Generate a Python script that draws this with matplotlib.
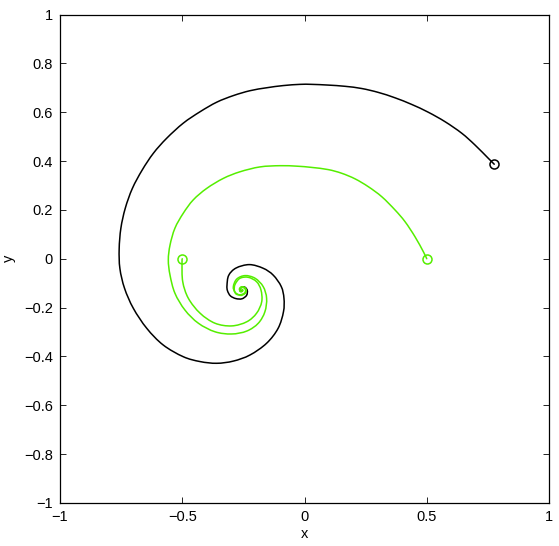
import matplotlib
matplotlib.use("Agg")
import matplotlib.pyplot as plt
from matplotlib.path import Path
from matplotlib.patches import PathPatch
import numpy as np

# Black trajectory (start at upper right, spirals in)
black_x = [0.776, 0.752, 0.697, 0.643, 0.575, 0.506, 0.438, 0.370, 0.302, 0.234,
           0.166, 0.097, 0.029, -0.018, -0.087, -0.155, -0.223, -0.291, -0.359, -0.427,
           -0.496, -0.564, -0.618, -0.664, -0.704, -0.733, -0.751, -0.758, -0.755,
           -0.736, -0.700, -0.645, -0.578, -0.496, -0.427, -0.359, -0.291, -0.223, -0.155,
           -0.108, -0.086, -0.084, -0.095, -0.128, -0.169, -0.225, -0.280, -0.310, -0.317,
           -0.315, -0.303, -0.281, -0.256, -0.237, -0.234, -0.243, -0.256, -0.264, -0.262,
           -0.256, -0.254]
black_y = [0.387, 0.411, 0.466, 0.514, 0.561, 0.600, 0.632, 0.659, 0.681, 0.697,
           0.706, 0.711, 0.714, 0.714, 0.709, 0.700, 0.688, 0.668, 0.641, 0.602,
           0.555, 0.493, 0.432, 0.363, 0.288, 0.207, 0.125, 0.040, -0.040,
           -0.121, -0.203, -0.285, -0.353, -0.401, -0.421, -0.428, -0.419, -0.394, -0.346,
           -0.285, -0.217, -0.162, -0.114, -0.067, -0.039, -0.024, -0.038, -0.068, -0.109,
           -0.131, -0.152, -0.163, -0.164, -0.150, -0.130, -0.117, -0.116, -0.124, -0.133,
           -0.133, -0.129]

# Green trajectory starting at (0.5, 0)
green1_x = [0.500, 0.486, 0.452, 0.411, 0.370, 0.316, 0.261, 0.207, 0.152, 0.097,
            0.029, -0.031, -0.100, -0.182, -0.264, -0.332, -0.400, -0.455, -0.496, -0.530,
            -0.550, -0.557, -0.550, -0.530, -0.489, -0.434, -0.366, -0.298, -0.236, -0.189,
            -0.162, -0.155, -0.169, -0.202, -0.243, -0.277, -0.291, -0.284, -0.262, -0.243,
            -0.238, -0.245, -0.258, -0.266, -0.263, -0.255, -0.252, -0.256]
green1_y = [0.000, 0.029, 0.090, 0.152, 0.200, 0.254, 0.295, 0.327, 0.350, 0.365,
            0.374, 0.379, 0.381, 0.376, 0.356, 0.329, 0.288, 0.241, 0.186, 0.125,
            0.056, -0.005, -0.067, -0.141, -0.210, -0.264, -0.299, -0.308, -0.296, -0.264,
            -0.217, -0.162, -0.114, -0.080, -0.069, -0.083, -0.114, -0.137, -0.150, -0.142,
            -0.128, -0.117, -0.115, -0.123, -0.134, -0.134, -0.128, -0.126]

# Green trajectory starting at (-0.5, 0)
green2_x = [-0.500, -0.501, -0.498, -0.475, -0.427, -0.366, -0.298, -0.236, -0.196, -0.175,
            -0.178, -0.196, -0.230, -0.264, -0.284, -0.287, -0.279, -0.260, -0.245, -0.241,
            -0.248, -0.257, -0.264, -0.261, -0.255, -0.254]
green2_y = [0.000, -0.019, -0.094, -0.162, -0.223, -0.264, -0.275, -0.258, -0.223, -0.176,
            -0.128, -0.094, -0.076, -0.080, -0.105, -0.128, -0.145, -0.147, -0.140, -0.128,
            -0.119, -0.118, -0.126, -0.133, -0.132, -0.128]

xticks = [-1, -0.5, 0, 0.5, 1]
xticklabels = ["\u22121", "\u22120.5", "0", "0.5", "1"]
yticks = [-1, -0.8, -0.6, -0.4, -0.2, 0, 0.2, 0.4, 0.6, 0.8, 1]
yticklabels = ["\u22121", "\u22120.8", "\u22120.6", "\u22120.4", "\u22120.2", "0",
               "0.2", "0.4", "0.6", "0.8", "1"]


def smooth_path(xs, ys):
    """Smooth (Catmull-Rom style) Bezier path passing through the given points."""
    p = np.column_stack([xs, ys])
    n = len(p)
    verts = [p[0]]
    codes = [Path.MOVETO]
    for i in range(n - 1):
        p0 = p[i - 1] if i > 0 else p[i]
        p1 = p[i]
        p2 = p[i + 1]
        p3 = p[i + 2] if i + 2 < n else p[i + 1]
        c1 = p1 + (p2 - p0) / 6.0
        c2 = p2 - (p3 - p1) / 6.0
        verts += [c1, c2, p2]
        codes += [Path.CURVE4] * 3
    return Path(verts, codes)


plt.rcParams['font.family'] = ['Liberation Sans', 'DejaVu Sans']

fig = plt.figure(figsize=(5.59, 5.46), dpi=100)
ax = fig.add_axes([60 / 559, 43 / 546, 489 / 559, 488.5 / 546])

green = '#55ee00'
for xs, ys, col in [(black_x, black_y, 'black'),
                    (green1_x, green1_y, green),
                    (green2_x, green2_y, green)]:
    ax.add_patch(PathPatch(smooth_path(xs, ys), fill=False, edgecolor=col,
                           lw=1.1, capstyle='round', joinstyle='round'))
    ax.plot(xs[0], ys[0], 'o', mfc='none', mec=col, ms=6.5, mew=1.1)

ax.set_xlim(-1, 1)
ax.set_ylim(-1, 1)
ax.set_xticks(xticks)
ax.set_xticklabels(xticklabels)
ax.set_yticks(yticks)
ax.set_yticklabels(yticklabels)
ax.tick_params(direction='in', length=4, width=0.6, labelsize=10.5,
               top=True, right=True, pad=5)
for s in ax.spines.values():
    s.set_linewidth(0.9)
ax.set_xlabel('x', fontsize=10.5, labelpad=2)
ax.set_ylabel('y', fontsize=10.5, labelpad=6)

fig.savefig('out.png', dpi=100)
